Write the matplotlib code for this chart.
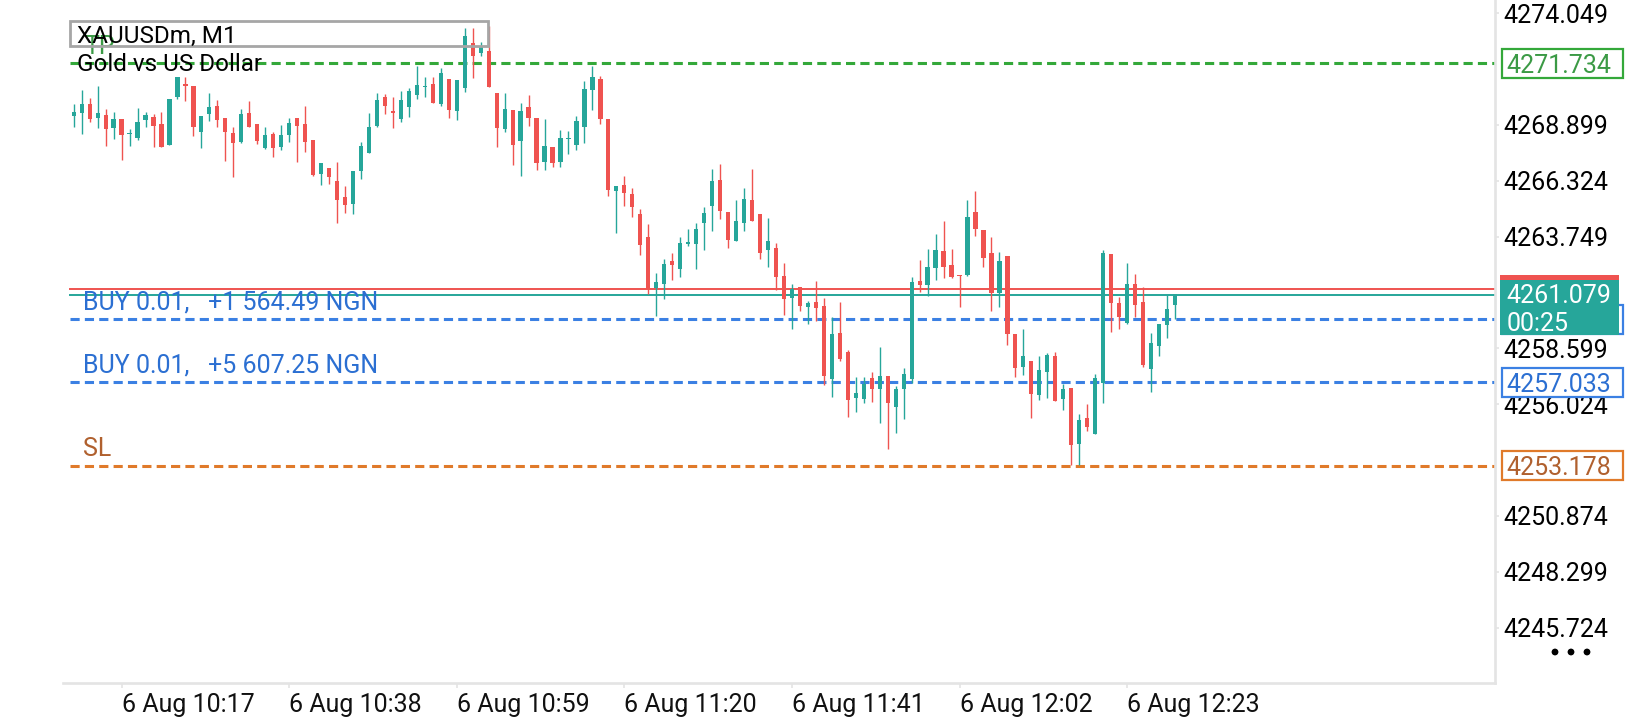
import matplotlib
matplotlib.use("Agg")
import matplotlib.pyplot as plt
import numpy as np
from matplotlib.patches import Rectangle, Circle
from matplotlib.transforms import IdentityTransform, blended_transform_factory

plt.rcParams['font.family'] = ['Roboto', 'DejaVu Sans']

# ---------------- data (XAUUSDm, M1) ----------------
opens = [4269.31, 4269.43, 4269.86, 4269.23, 4269.35, 4268.77, 4269.18, 4268.49, 4268.29, 4269.14,
         4269.27, 4268.94, 4267.97, 4270.18, 4270.78, 4270.69, 4268.58, 4269.41, 4269.77, 4269.23,
         4268.52, 4268.12, 4269.44, 4268.94, 4267.84, 4268.46, 4267.86, 4268.44, 4269.21, 4268.94,
         4268.20, 4266.63, 4266.91, 4266.31, 4265.57, 4265.26, 4266.77, 4267.61, 4268.84, 4270.17,
         4269.54, 4269.17, 4269.72, 4270.27, 4270.64, 4270.78, 4269.86, 4271.01, 4269.55, 4270.61,
         4272.67, 4272.22, 4272.30, 4270.37, 4268.72, 4269.58, 4268.17, 4269.72, 4269.21, 4267.20,
         4267.89, 4267.20, 4268.26, 4267.98, 4268.81, 4270.52, 4270.99, 4269.17, 4265.86, 4266.13,
         4265.71, 4264.79, 4263.73, 4261.39, 4261.56, 4262.61, 4262.27, 4263.42, 4263.42, 4264.37,
         4265.16, 4266.36, 4264.88, 4263.54, 4264.37, 4265.43, 4264.79, 4263.13, 4263.22, 4261.93,
         4260.92, 4261.43, 4260.50, 4260.73, 4260.55, 4257.20, 4259.31, 4258.43, 4256.32, 4256.28,
         4257.22, 4256.74, 4257.32, 4255.91, 4256.74, 4257.19, 4261.69, 4261.52, 4262.31, 4263.08,
         4262.44, 4261.98, 4261.98, 4264.88, 4264.05, 4262.99, 4261.15, 4262.85, 4259.27, 4257.75,
         4258.02, 4256.46, 4257.52, 4258.25, 4256.28, 4256.77, 4254.20, 4255.39, 4254.67, 4257.02,
         4262.95, 4260.69, 4259.78, 4261.56, 4260.73, 4257.66, 4258.72, 4259.69, 4260.59]
highs = [4269.86, 4270.50, 4270.13, 4270.69, 4269.63, 4269.49, 4269.18, 4268.69, 4269.67, 4269.49,
         4269.40, 4269.50, 4270.09, 4271.10, 4271.10, 4270.69, 4269.31, 4270.35, 4270.04, 4269.23,
         4268.81, 4269.63, 4270.01, 4268.94, 4268.78, 4268.58, 4268.89, 4269.21, 4269.21, 4269.75,
         4268.20, 4267.13, 4266.91, 4267.20, 4266.09, 4266.77, 4268.12, 4269.44, 4270.35, 4270.32,
         4270.17, 4270.47, 4270.59, 4271.61, 4271.12, 4271.12, 4271.53, 4271.01, 4270.96, 4273.38,
         4273.38, 4272.73, 4273.45, 4270.37, 4270.37, 4269.58, 4269.89, 4270.26, 4269.21, 4269.18,
         4267.89, 4268.66, 4268.63, 4269.31, 4270.92, 4271.61, 4271.16, 4269.17, 4266.08, 4266.54,
         4265.97, 4265.02, 4264.33, 4262.06, 4262.72, 4262.98, 4263.73, 4264.10, 4264.37, 4265.11,
         4266.86, 4267.09, 4264.88, 4265.43, 4265.99, 4266.86, 4264.79, 4264.61, 4263.45, 4262.53,
         4261.56, 4261.43, 4260.78, 4261.70, 4260.92, 4260.04, 4260.73, 4258.52, 4257.28, 4257.28,
         4257.51, 4258.66, 4257.32, 4256.86, 4257.69, 4261.87, 4262.67, 4263.18, 4263.87, 4264.47,
         4263.16, 4261.98, 4265.43, 4265.85, 4264.05, 4263.73, 4263.04, 4262.85, 4259.27, 4259.49,
         4258.02, 4258.25, 4258.38, 4258.43, 4256.95, 4256.77, 4255.57, 4256.03, 4257.42, 4263.13,
         4262.95, 4260.98, 4262.55, 4262.02, 4261.43, 4259.31, 4259.72, 4261.06, 4261.08]
lows = [4268.81, 4268.47, 4269.03, 4268.74, 4267.92, 4268.26, 4267.28, 4267.92, 4268.21, 4268.78,
        4267.89, 4267.89, 4267.97, 4270.10, 4270.01, 4268.38, 4267.82, 4269.08, 4268.81, 4267.25,
        4266.48, 4268.07, 4268.78, 4268.02, 4267.77, 4267.42, 4267.74, 4268.11, 4267.20, 4267.63,
        4266.55, 4266.14, 4266.18, 4264.36, 4264.85, 4264.80, 4266.42, 4267.61, 4268.78, 4269.40,
        4268.77, 4269.04, 4269.27, 4270.07, 4270.17, 4269.89, 4269.78, 4269.21, 4269.14, 4270.43,
        4271.07, 4272.08, 4270.66, 4267.89, 4268.57, 4267.06, 4266.55, 4268.84, 4266.82, 4266.80,
        4266.94, 4266.97, 4267.57, 4267.72, 4268.07, 4269.58, 4268.92, 4265.63, 4263.93, 4265.17,
        4264.67, 4262.90, 4261.10, 4260.10, 4260.89, 4261.75, 4261.90, 4263.33, 4262.27, 4263.13,
        4264.02, 4264.56, 4263.22, 4263.54, 4264.00, 4264.47, 4262.72, 4262.35, 4261.29, 4260.15,
        4259.50, 4260.32, 4259.72, 4259.87, 4256.92, 4256.37, 4258.03, 4255.45, 4255.68, 4256.09,
        4256.14, 4255.17, 4253.95, 4254.71, 4255.33, 4256.99, 4261.21, 4261.02, 4261.76, 4261.83,
        4261.84, 4260.52, 4261.93, 4263.79, 4262.36, 4260.33, 4260.52, 4258.77, 4257.28, 4257.38,
        4255.40, 4256.23, 4256.32, 4256.18, 4255.77, 4253.24, 4253.20, 4254.80, 4254.67, 4256.07,
        4259.37, 4259.50, 4259.71, 4260.06, 4257.73, 4256.60, 4258.26, 4259.09, 4259.96]
closes = [4269.50, 4269.86, 4269.18, 4269.44, 4268.69, 4269.18, 4268.44, 4268.54, 4269.03, 4269.35,
          4268.86, 4267.89, 4270.09, 4271.10, 4270.69, 4268.81, 4269.31, 4269.73, 4269.14, 4268.58,
          4268.07, 4269.40, 4268.81, 4268.17, 4268.43, 4267.82, 4268.43, 4268.98, 4268.86, 4268.11,
          4266.59, 4267.13, 4266.51, 4265.43, 4265.20, 4266.77, 4267.92, 4268.81, 4270.04, 4269.77,
          4269.46, 4270.04, 4270.46, 4270.73, 4270.69, 4269.92, 4271.27, 4269.60, 4270.96, 4272.99,
          4272.08, 4272.53, 4270.66, 4268.77, 4269.63, 4267.98, 4269.54, 4269.23, 4267.15, 4267.92,
          4267.15, 4268.29, 4268.29, 4269.08, 4270.55, 4271.10, 4269.18, 4265.90, 4266.08, 4265.74,
          4265.13, 4263.36, 4261.33, 4261.64, 4262.49, 4262.44, 4263.45, 4263.49, 4264.10, 4264.84,
          4266.31, 4264.94, 4263.59, 4264.48, 4265.48, 4264.47, 4262.99, 4263.54, 4261.89, 4260.87,
          4261.33, 4260.55, 4260.69, 4260.46, 4257.34, 4259.26, 4258.11, 4256.23, 4256.54, 4256.94,
          4256.74, 4257.32, 4256.09, 4256.71, 4257.42, 4261.64, 4261.52, 4262.33, 4263.13, 4262.36,
          4261.89, 4261.95, 4264.65, 4264.10, 4262.76, 4261.16, 4262.62, 4259.27, 4257.71, 4258.25,
          4256.51, 4257.60, 4258.29, 4256.18, 4256.72, 4254.16, 4255.30, 4254.99, 4257.23, 4263.01,
          4260.67, 4260.06, 4261.56, 4260.61, 4257.85, 4258.83, 4259.72, 4260.41, 4261.08]

time_tick_idx = [6, 27, 48, 69, 90, 111, 132]
time_labels = ["6 Aug 10:17", "6 Aug 10:38", "6 Aug 10:59", "6 Aug 11:20",
               "6 Aug 11:41", "6 Aug 12:02", "6 Aug 12:23"]
# visible price scale labels (the ones at 4271.474, 4261.174, 4253.449 sit under the boxes)
price_ticks = [4274.049, 4268.899, 4266.324, 4263.749,
               4258.599, 4256.024, 4250.874, 4248.299, 4245.724]

tp_level = 4271.734
sl_level = 4253.178
buy_levels = [4259.937, 4257.033]
buy_texts = ["BUY 0.01,   +1 564.49 NGN", "BUY 0.01,   +5 607.25 NGN"]
bid_price = 4261.079
ask_price = 4261.35
timer_text = "00:25"
symbol_text = "XAUUSDm, M1"
desc_text = "Gold vs US Dollar"

# ---------------- style ----------------
BULL = '#26a69a'
BEAR = '#ef5350'
TP_COL = '#34a83a'
TP_TXT = '#3b9a45'
BLUE = '#3b80e3'
BLUE_TXT = '#2b6fd2'
SL_COL = '#e07a2a'
SL_TXT = '#b0602e'
GRID_GRAY = '#e4e4e4'
FS = 18

W, H = 1640, 720
fig = plt.figure(figsize=(W / 100, H / 100), dpi=100)
fig.patch.set_facecolor('white')
ax_l, ax_r, ax_t, ax_b = 62.7, 1495.0, 0.0, 683.0
ax = fig.add_axes([ax_l / W, (H - ax_b) / H, (ax_r - ax_l) / W, (ax_b - ax_t) / H])
ax.set_facecolor('white')
ax.set_xlim(-1.378, 178.1)
ax.set_ylim(4243.176, 4274.651)

o = np.array(opens); h = np.array(highs); l = np.array(lows); c = np.array(closes)
idx = np.arange(len(o))
cols = [BULL if cc >= oo else BEAR for oo, cc in zip(o, c)]
ax.vlines(idx, l, h, colors=cols, linewidth=1.0, zorder=3)
ax.bar(idx, np.maximum(np.abs(c - o), 0.05), bottom=np.minimum(o, c), width=0.53,
       color=cols, linewidth=0, zorder=4)

# horizontal levels
xs = (70 - ax_l) / (ax_r - ax_l)
ax.axhline(tp_level, xmin=xs, xmax=1, color=TP_COL, lw=2.2, dashes=(3, 1.7), zorder=2)
for lv in buy_levels:
    ax.axhline(lv, xmin=xs, xmax=1, color=BLUE, lw=2.2, dashes=(3, 1.7), zorder=2)
ax.axhline(sl_level, xmin=xs, xmax=1, color=SL_COL, lw=2.2, dashes=(3, 1.7), zorder=2)
ax.axhline(ask_price, xmin=xs, xmax=1, color=BEAR, lw=1.4, zorder=2)
ax.axhline(bid_price, xmin=xs, xmax=1, color=BULL, lw=1.4, zorder=2)

blend = blended_transform_factory(ax.transAxes, ax.transData)
lab_x = (82.7 - ax_l) / (ax_r - ax_l)
tp_x = (84.0 - ax_l) / (ax_r - ax_l)
ax.annotate("TP", xy=(tp_x, tp_level), xycoords=blend, xytext=(0, 12),
            textcoords='offset points', va='center', ha='left', color=TP_TXT,
            fontsize=FS, zorder=5)
for lv, t in zip(buy_levels, buy_texts):
    ax.annotate(t, xy=(lab_x, lv), xycoords=blend, xytext=(0, 12),
                textcoords='offset points', va='center', ha='left', color=BLUE_TXT,
                fontsize=FS, zorder=5)
ax.annotate("SL", xy=(lab_x, sl_level), xycoords=blend, xytext=(0, 12),
            textcoords='offset points', va='center', ha='left', color=SL_TXT,
            fontsize=FS, zorder=5)

# axes styling
for s in ['top', 'left']:
    ax.spines[s].set_visible(False)
for s in ['bottom', 'right']:
    ax.spines[s].set_color(GRID_GRAY)
    ax.spines[s].set_linewidth(1.9)
ax.yaxis.tick_right()
ax.set_yticks(price_ticks)
ax.set_yticklabels([f"{v:.3f}" for v in price_ticks])
ax.tick_params(axis='y', length=3, width=1.2, color=GRID_GRAY, labelcolor='black',
               labelsize=FS, pad=3)
ax.set_xticks(time_tick_idx)
ax.set_xticklabels(time_labels)
ax.tick_params(axis='x', length=3.5, width=1.2, color=GRID_GRAY, labelcolor='#111111',
               labelsize=FS, pad=3.5)
for lab in ax.get_xticklabels():
    lab.set_horizontalalignment('left')

# ---------- right side price boxes (display pixel coords) ----------
fig.canvas.draw()
ID = IdentityTransform()


def ydisp(level):
    return ax.transData.transform((0, level))[1]


def box(level, ec, tc, text):
    yc = ydisp(level)
    fig.add_artist(Rectangle((1501.5, yc - 14.5), 121, 29, transform=ID, fc='white',
                             ec=ec, lw=1.6, zorder=10))
    fig.text(1506, yc, text, transform=ID, color=tc, fontsize=FS, va='center_baseline',
             ha='left', zorder=11)


box(tp_level, TP_COL, TP_TXT, f"{tp_level:.3f}")
box(buy_levels[1], BLUE, BLUE_TXT, f"{buy_levels[1]:.3f}")
box(sl_level, SL_COL, SL_TXT, f"{sl_level:.3f}")

# hidden upper buy box (only edge visible), ask strip and current price box
yb = ydisp(buy_levels[0])
fig.add_artist(Rectangle((1501.5, yb - 14.5), 121, 29, transform=ID, fc='white',
                         ec=BLUE, lw=1.6, zorder=10))
ya = ydisp(ask_price)
fig.add_artist(Rectangle((1500, ya - 16), 119, 30, transform=ID, fc=BEAR, ec='none', zorder=12))
ybid = ydisp(bid_price)
fig.add_artist(Rectangle((1500, ybid - 40.5), 119, 55, transform=ID, fc=BULL, ec='none', zorder=13))
fig.text(1506.5, ybid + 1.2, f"{bid_price:.3f}", transform=ID, color='white', fontsize=FS,
         va='center_baseline', ha='left', zorder=14)
fig.text(1506.5, ybid - 27.2, timer_text, transform=ID, color='white', fontsize=FS,
         va='center_baseline', ha='left', zorder=14)

# dots menu
for dx in (1555, 1571, 1587):
    fig.add_artist(Circle((dx, H - 652), 3.4, transform=ID, fc='black', ec='none', zorder=10))

# ---------- top-left symbol info ----------
fig.add_artist(Rectangle((70, H - 45.7), 418, 24.7, transform=ID, fc='none',
                         ec='#a6a6a6', lw=2.0, zorder=10))
fig.text(76.7, H - 33.8, symbol_text, transform=ID, color='black', fontsize=17.5,
         va='center_baseline', ha='left', zorder=11)
fig.text(76.7, H - 61.7, desc_text, transform=ID, color='black', fontsize=17.5,
         va='center_baseline', ha='left', zorder=11)

fig.savefig('out.png', dpi=100, facecolor='white')
